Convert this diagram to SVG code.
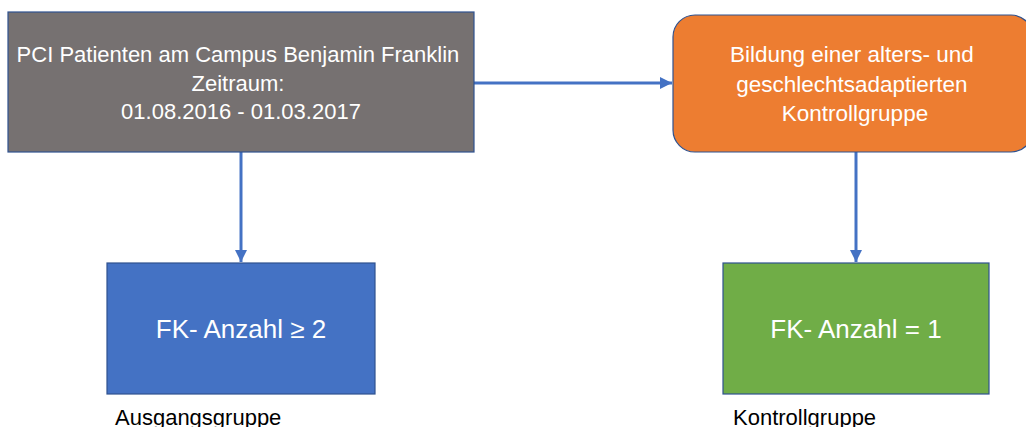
<svg xmlns="http://www.w3.org/2000/svg" width="1026" height="427" viewBox="0 0 1026 427">
  <style>
    .box { stroke: #2F528F; stroke-width: 1.2; }
    .inner { font-family: "Liberation Sans", Arial, sans-serif; fill: #FFFFFF; text-anchor: middle; }
    .caption { font-family: "Liberation Sans", Arial, sans-serif; fill: #000000; font-size: 22px; }
    .link { stroke: #4472C4; stroke-width: 3; fill: none; marker-end: url(#head); }
  </style>
  <defs>
    <marker id="head" viewBox="0 0 10 10" refX="10" refY="5" markerWidth="4" markerHeight="4" markerUnits="strokeWidth" orient="auto">
      <path d="M0,0 L10,5 L0,10 Z" fill="#4472C4"/>
    </marker>
  </defs>
  <rect width="1026" height="427" fill="#FFFFFF"/>

  <g id="connectors">
    <line class="link" x1="474" y1="83" x2="672" y2="83"/>
    <line class="link" x1="241" y1="152" x2="241" y2="262"/>
    <line class="link" x1="856" y1="152" x2="856" y2="262"/>
  </g>

  <g id="patients">
    <rect class="box" x="8" y="12" width="466" height="140" fill="#767171"/>
    <text class="inner" font-size="22">
      <tspan x="241" y="62">PCI Patienten am Campus Benjamin Franklin</tspan>
      <tspan x="241" y="91">Zeitraum:</tspan>
      <tspan x="241" y="119">01.08.2016 - 01.03.2017</tspan>
    </text>
  </g>

  <g id="control-forming">
    <rect class="box" x="673" y="15" width="360" height="137" rx="22" ry="22" fill="#ED7D31"/>
    <text class="inner" font-size="22.5">
      <tspan x="855" y="62">Bildung einer alters- und</tspan>
      <tspan x="855" y="92">geschlechtsadaptierten</tspan>
      <tspan x="855" y="121">Kontrollgruppe</tspan>
    </text>
  </g>

  <g id="study-group">
    <rect class="box" x="107" y="263" width="268" height="131" fill="#4472C4"/>
    <text class="inner" font-size="26" x="241" y="338">FK- Anzahl ≥ 2</text>
    <text class="caption" x="115" y="425">Ausgangsgruppe</text>
  </g>

  <g id="control-group">
    <rect class="box" x="723" y="263" width="266" height="131" fill="#70AD47"/>
    <text class="inner" font-size="26" x="856" y="338">FK- Anzahl = 1</text>
    <text class="caption" x="733" y="425" font-size="23">Kontrollgruppe</text>
  </g>
</svg>
